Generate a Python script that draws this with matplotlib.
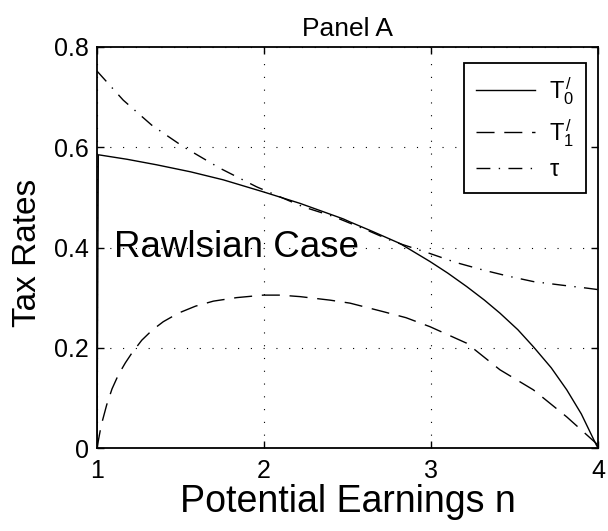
import matplotlib
matplotlib.use("Agg")
import matplotlib.pyplot as plt

plt.rcParams['font.family'] = ['Liberation Sans', 'DejaVu Sans']
plt.rcParams['mathtext.fontset'] = 'custom'
plt.rcParams['mathtext.rm'] = 'Liberation Sans'
plt.rcParams['mathtext.it'] = 'Liberation Sans'

# T0' (solid)
x_t0 = [1.0, 1.008, 1.18, 1.357, 1.56, 1.756, 1.996, 2.216, 2.475, 2.515, 2.65, 2.814, 2.994, 3.10, 3.214,
        3.32, 3.413, 3.52, 3.613, 3.72, 3.813, 3.90, 3.99, 4.0]
y_t0 = [0.0, 0.585, 0.576, 0.565, 0.551, 0.535, 0.511, 0.488, 0.457, 0.451, 0.432, 0.408, 0.372, 0.349, 0.322,
        0.295, 0.269, 0.236, 0.202, 0.160, 0.116, 0.068, 0.006, 0.0]

# T1' (dashed)
x_t1 = [1.0, 1.025, 1.058, 1.09, 1.128, 1.17, 1.208, 1.268, 1.33, 1.397, 1.487, 1.59, 1.697, 1.836, 1.996,
        2.096, 2.216, 2.395, 2.515, 2.714, 2.85, 2.994, 3.214, 3.413, 3.613, 3.813, 3.90, 3.99, 4.0]
y_t1 = [0.0, 0.045, 0.086, 0.118, 0.146, 0.170, 0.189, 0.215, 0.235, 0.252, 0.269, 0.283, 0.293, 0.300, 0.305,
        0.305, 0.302, 0.295, 0.289, 0.272, 0.260, 0.242, 0.209, 0.156, 0.116, 0.062, 0.036, 0.009, 0.0]

# tau (dash-dot)
x_tau = [1.0, 1.157, 1.328, 1.517, 1.737, 1.956, 2.236, 2.415, 2.60, 2.774, 2.994, 3.15, 3.313, 3.46, 3.613,
         3.78, 3.932, 4.0]
y_tau = [0.752, 0.694, 0.644, 0.601, 0.558, 0.521, 0.481, 0.462, 0.437, 0.412, 0.388, 0.370, 0.355, 0.343, 0.332,
         0.325, 0.319, 0.316]

x_ticks = [1, 2, 3, 4]
y_ticks = [0, 0.2, 0.4, 0.6, 0.8]
y_ticklabels = ['0', '0.2', '0.4', '0.6', '0.8']

fig = plt.figure(figsize=(6.08, 5.31), dpi=100)
ax = fig.add_axes([97/608, 1-448/531, (598-97)/608, (448-47)/531])

ax.plot(x_t0, y_t0, color='black', lw=1.0, ls='-', label=r'$T^{/}_{0}$')
ax.plot(x_t1, y_t1, color='black', lw=1.0, ls=(0, (13, 7)), label=r'$T^{/}_{1}$')
ax.plot(x_tau, y_tau, color='black', lw=1.0, ls=(0, (10, 6, 1, 6)), label=r'$\tau$')

ax.set_xlim(1, 4)
ax.set_ylim(0, 0.8)
ax.set_xticks(x_ticks)
ax.set_xticklabels([str(v) for v in x_ticks])
ax.set_yticks(y_ticks)
ax.set_yticklabels(y_ticklabels)
ax.tick_params(direction='in', length=5, width=1, labelsize=18, top=True, right=True)
ax.tick_params(axis='x', pad=8)
ax.tick_params(axis='y', pad=6)
ax.grid(True, color='black', ls=(0, (1, 10.5)), lw=0.8)
for s in ax.spines.values():
    s.set_linewidth(1.3)

ax.set_title('Panel A', fontsize=19, pad=8)
ax.set_xlabel('Potential Earnings n', fontsize=27)
ax.xaxis.set_label_coords(0.5, -0.09)
ax.set_ylabel('Tax Rates', fontsize=24)
ax.yaxis.set_label_coords(-0.107, 0.487)
ax.text(1.1, 0.4, 'Rawlsian Case', fontsize=26.5, va='center', ha='left')

leg = ax.legend(loc='upper right', fontsize=17, frameon=True, fancybox=False,
                edgecolor='black', handlelength=2.5, handletextpad=0.6, borderpad=0.5,
                labelspacing=0.45, borderaxespad=0, bbox_to_anchor=(0.976, 0.960))
leg.get_frame().set_linewidth(1.3)
leg.get_frame().set_alpha(1)

fig.savefig('out.png', dpi=100)
